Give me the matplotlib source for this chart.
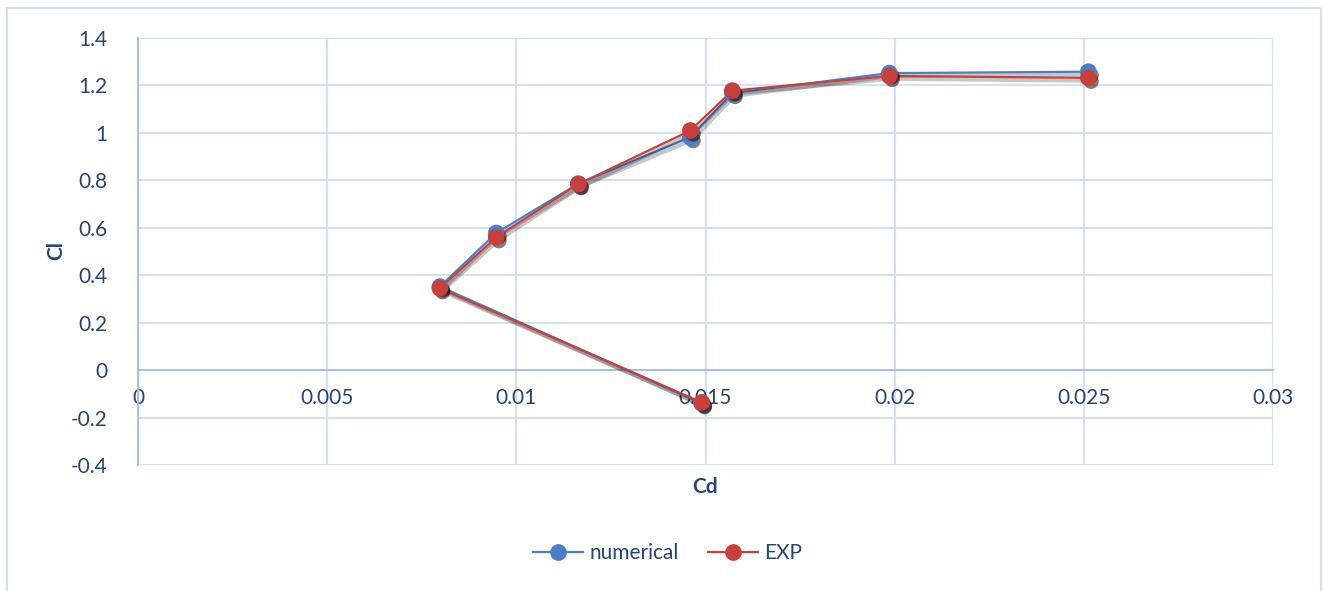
import matplotlib.pyplot as plt
import matplotlib.patheffects as pe
from matplotlib.lines import Line2D
from matplotlib.patches import Rectangle

# datos
cd = [0.01490, 0.00798, 0.00947, 0.01164, 0.01460, 0.01571, 0.01986, 0.02512]
cl_numerical = [-0.140, 0.352, 0.578, 0.786, 0.982, 1.168, 1.252, 1.258]
cl_exp = [-0.136, 0.345, 0.560, 0.784, 1.010, 1.178, 1.240, 1.232]

azul = "#4A7EC6"
rojo = "#C9403A"
texto = "#264478"
grade = "#D5E1F2"

plt.rcParams["font.family"] = ["Lato", "DejaVu Sans"]

fig = plt.figure(figsize=(13.23, 5.91), dpi=100)
ax = fig.add_axes([138/1323, 1-465/591, (1273-138)/1323, (465-38)/591])

# borda externa do grafico
fig.patches.append(Rectangle((7/1323, -0.05), (1321-7)/1323, 1.05-8/591,
                             transform=fig.transFigure, fill=False,
                             edgecolor=grade, linewidth=1.5))

sombra_linha = [pe.SimpleLineShadow(offset=(1.5, -2), shadow_color="black", alpha=0.22, linewidth=3), pe.Normal()]
sombra_ponto = [pe.SimplePatchShadow(offset=(2, -2.5), shadow_rgbFace="black", alpha=0.5), pe.Normal()]

for y, cor in [(cl_numerical, azul), (cl_exp, rojo)]:
    ax.plot(cd, y, color=cor, linewidth=1.6, path_effects=sombra_linha, zorder=3)
    ax.plot(cd, y, linestyle="none", marker="o", markersize=11, color=cor,
            path_effects=sombra_ponto, zorder=4)

ax.set_xlim(0, 0.03)
ax.set_ylim(-0.4, 1.4)
ax.set_xticks([0, 0.005, 0.01, 0.015, 0.02, 0.025, 0.03])
ax.set_xticklabels(["0", "0.005", "0.01", "0.015", "0.02", "0.025", "0.03"])
ax.set_yticks([-0.4, -0.2, 0, 0.2, 0.4, 0.6, 0.8, 1, 1.2, 1.4])
ax.set_yticklabels(["-0.4", "-0.2", "0", "0.2", "0.4", "0.6", "0.8", "1", "1.2", "1.4"])

ax.grid(True, color=grade, linewidth=1.5)
ax.set_axisbelow(True)
ax.spines["top"].set_visible(False)
ax.spines["right"].set_visible(False)
ax.spines["bottom"].set_position(("data", 0))
ax.spines["bottom"].set_color("#A8C2E6")
ax.spines["left"].set_color("#A8C2E6")
ax.spines["bottom"].set_linewidth(1.5)
ax.spines["left"].set_linewidth(1.5)
ax.tick_params(length=0, labelsize=15, labelcolor=texto)
ax.tick_params(axis="x", pad=13)
ax.tick_params(axis="y", pad=22)

fig.text(705/1323, 1-487/591, "Cd", ha="center", va="center", fontsize=15,
         fontweight="bold", color=texto)
fig.text(56/1323, 1-250/591, "Cl", ha="center", va="center", rotation=90,
         fontsize=15, fontweight="bold", color=texto)

itens = [Line2D([], [], color=azul, marker="o", markersize=11, linewidth=1.6),
         Line2D([], [], color=rojo, marker="o", markersize=11, linewidth=1.6)]
leg = fig.legend(itens, ["numerical", "EXP"], loc="center", ncol=2,
                 bbox_to_anchor=(668/1323, 1-553/591), frameon=False,
                 fontsize=15, handlelength=2.4, columnspacing=1.4, handletextpad=0.3)
for t in leg.get_texts():
    t.set_color(texto)

plt.savefig("out.png", dpi=100)
